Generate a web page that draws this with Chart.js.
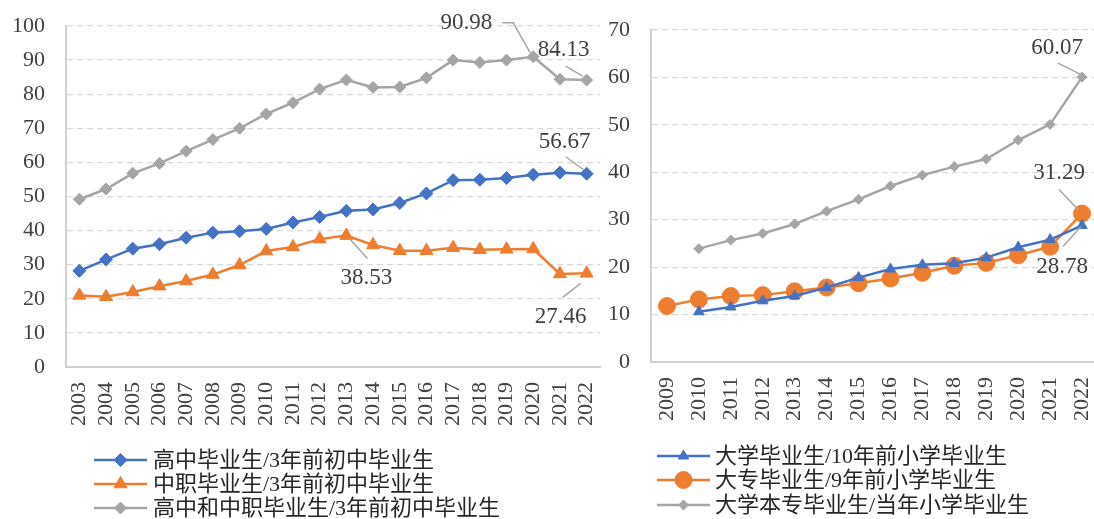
<!DOCTYPE html>
<html><head><meta charset="utf-8">
<script src="https://cdn.jsdelivr.net/npm/chart.js@4/dist/chart.umd.min.js"></script>
<style>
html,body{margin:0;padding:0;background:#fff;overflow:hidden;width:1094px;height:519px;position:relative;}
#w1{position:absolute;left:0;top:0;width:620px;height:519px;}
#w2{position:absolute;left:600px;top:0;width:530px;height:519px;}
</style></head><body>
<div id="w1"><canvas id="c1"></canvas></div>
<div id="w2"><canvas id="c2"></canvas></div>
<script>
// ---------- data ----------
const yearsA = ['2003','2004','2005','2006','2007','2008','2009','2010','2011','2012','2013','2014','2015','2016','2017','2018','2019','2020','2021','2022'];
const gaozhong = [28.2,31.5,34.7,36.0,37.9,39.4,39.8,40.5,42.4,44.0,45.8,46.2,48.1,50.9,54.8,54.9,55.4,56.4,57.0,56.67];
const zhongzhi = [21.0,20.6,22.0,23.7,25.2,27.1,29.9,34.0,35.2,37.5,38.53,35.8,34.1,34.1,35.0,34.4,34.5,34.6,27.3,27.46];
const combined = [49.2,52.2,56.8,59.7,63.3,66.7,70.0,74.2,77.5,81.5,84.2,82.0,82.1,84.8,90.0,89.3,90.0,90.98,84.4,84.13];
const labelsA = ['高中毕业生/3年前初中毕业生','中职毕业生/3年前初中毕业生','高中和中职毕业生/3年前初中毕业生'];

const yearsB = ['2009','2010','2011','2012','2013','2014','2015','2016','2017','2018','2019','2020','2021','2022'];
const daxue = [null,10.6,11.6,12.9,13.9,15.7,17.8,19.6,20.5,20.8,22.0,24.2,25.8,28.78];
const dazhuan = [11.8,13.2,13.9,14.1,14.9,15.7,16.6,17.6,18.8,20.3,20.9,22.5,24.3,31.29];
const benzhuan = [null,23.9,25.7,27.1,29.1,31.8,34.3,37.1,39.4,41.2,42.8,46.8,50.1,60.07];
const labelsB = ['大学毕业生/10年前小学毕业生','大专毕业生/9年前小学毕业生','大学本专毕业生/当年小学毕业生'];

// ---------- styling ----------
const BLUE='#4472c4', ORANGE='#ed7d31', GRAY='#a5a5a5';
const SERIF="'Liberation Serif','Times New Roman',serif";
const LEGFONT="22px 'Liberation Serif','Noto Sans CJK SC',serif";
const TXT='#404040';

// annotation placement (pixel offsets from the labelled point)
const notesA = [
  {ds:2, i:17, dx:-67, dy:-34, path:[[-31,-34],[-20,-34],[-3,-4]]},
  {ds:2, i:19, dx:-23, dy:-30, path:[[-21,-14],[-4,-4]]},
  {ds:0, i:19, dx:-22, dy:-32, path:[[-21,-17],[-3,-4]]},
  {ds:1, i:10, dx:20, dy:42, path:[[4,4],[21,23]]},
  {ds:1, i:19, dx:-26, dy:44, path:[[-24,24],[-6,10]]}
];
const notesB = [
  {ds:2, i:13, dx:-25, dy:-29, path:[[-24,-14],[-2,-3]]},
  {ds:1, i:13, dx:-23, dy:-41, path:[[-23,-24],[-4,-4]]},
  {ds:0, i:13, dx:-20, dy:41, path:[[-19,21],[-1,1]]}
];

function notesPlugin(notes){
  return {id:'notes', afterDatasetsDraw(chart){
    const ctx=chart.ctx;
    ctx.save();
    notes.forEach(n=>{
      const pt=chart.getDatasetMeta(n.ds).data[n.i];
      const v=chart.data.datasets[n.ds].data[n.i];
      ctx.strokeStyle='#a6a6a6'; ctx.lineWidth=1.5;
      ctx.beginPath();
      n.path.forEach((p,k)=>{ if(k===0) ctx.moveTo(pt.x+p[0],pt.y+p[1]); else ctx.lineTo(pt.x+p[0],pt.y+p[1]); });
      ctx.stroke();
      ctx.fillStyle=TXT; ctx.font='23px '+SERIF; ctx.textAlign='center'; ctx.textBaseline='middle';
      ctx.fillText(v.toFixed(2), pt.x+n.dx, pt.y+n.dy);
    });
    ctx.restore();
  }};
}
function legendPlugin(lc){
  return {id:'legendCustom', afterDraw(chart){
    const ctx=chart.ctx;
    chart.data.datasets.forEach((ds,k)=>{
      const y=lc.ys[k];
      ctx.save();
      ctx.strokeStyle=ds.borderColor; ctx.lineWidth=ds.borderWidth;
      ctx.beginPath(); ctx.moveTo(lc.x0,y); ctx.lineTo(lc.x1,y); ctx.stroke();
      ctx.fillStyle=ds.pointBackgroundColor; ctx.strokeStyle=ds.pointBorderColor; ctx.lineWidth=1;
      Chart.helpers.drawPoint(ctx,{pointStyle:ds.pointStyle,radius:ds.pointRadius,borderWidth:1,rotation:0},(lc.x0+lc.x1)/2,y);
      ctx.fillStyle='#262626'; ctx.font=LEGFONT; ctx.textAlign='left'; ctx.textBaseline='middle';
      ctx.fillText(ds.label, lc.tx, y+1);
      ctx.restore();
    });
  }};
}
function mkDs(label,data,color,style,r){
  return {label,data,borderColor:color,backgroundColor:color,pointBackgroundColor:color,pointBorderColor:color,
    borderWidth:2.5,pointStyle:style,pointRadius:r,pointHoverRadius:r,pointBorderWidth:1,tension:0,spanGaps:false};
}
function mkOpts(yMax,yWidth,xHeight,pad){
  return {
    responsive:true, maintainAspectRatio:false, animation:false, events:[],
    layout:{padding:pad, autoPadding:false},
    plugins:{legend:{display:false}, tooltip:{enabled:false}},
    scales:{
      x:{offset:true,
        grid:{display:false,drawTicks:true,tickLength:15},
        border:{display:true,color:'#d0d0d0',width:2},
        ticks:{maxRotation:90,minRotation:90,autoSkip:false,padding:0,color:TXT,font:{family:SERIF,size:22}},
        afterFit(s){ s.height=xHeight; }
      },
      y:{min:0,max:yMax,
        ticks:{stepSize:10,padding:0,color:TXT,font:{family:SERIF,size:22}},
        grid:{color:'#d9d9d9',lineWidth:1.2,drawTicks:true,tickLength:21,tickColor:'rgba(0,0,0,0)'},
        border:{display:true,color:'#d0d0d0',width:2,dash:[6,4]},
        afterFit(s){ s.width=yWidth; }
      }
    }
  };
}

new Chart(document.getElementById('c1'),{
  type:'line',
  data:{labels:yearsA,datasets:[
    mkDs(labelsA[0],gaozhong,BLUE,'rectRot',6.5),
    mkDs(labelsA[1],zhongzhi,ORANGE,'triangle',7.5),
    mkDs(labelsA[2],combined,GRAY,'rectRot',6)
  ]},
  options:mkOpts(100,66,152,{top:26,right:20,left:0,bottom:0}),
  plugins:[notesPlugin(notesA),legendPlugin({x0:94,x1:147,tx:153,ys:[460,484,508]})]
});

new Chart(document.getElementById('c2'),{
  type:'line',
  data:{labels:yearsB,datasets:[
    mkDs(labelsB[0],daxue,BLUE,'triangle',6),
    mkDs(labelsB[1],dazhuan,ORANGE,'circle',8.5),
    mkDs(labelsB[2],benzhuan,GRAY,'rectRot',5)
  ]},
  options:mkOpts(70,51,157,{top:30,right:32,left:0,bottom:0}),
  plugins:[notesPlugin(notesB),legendPlugin({x0:57,x1:110,tx:115,ys:[456,480,505]})]
});
</script>
</body></html>
